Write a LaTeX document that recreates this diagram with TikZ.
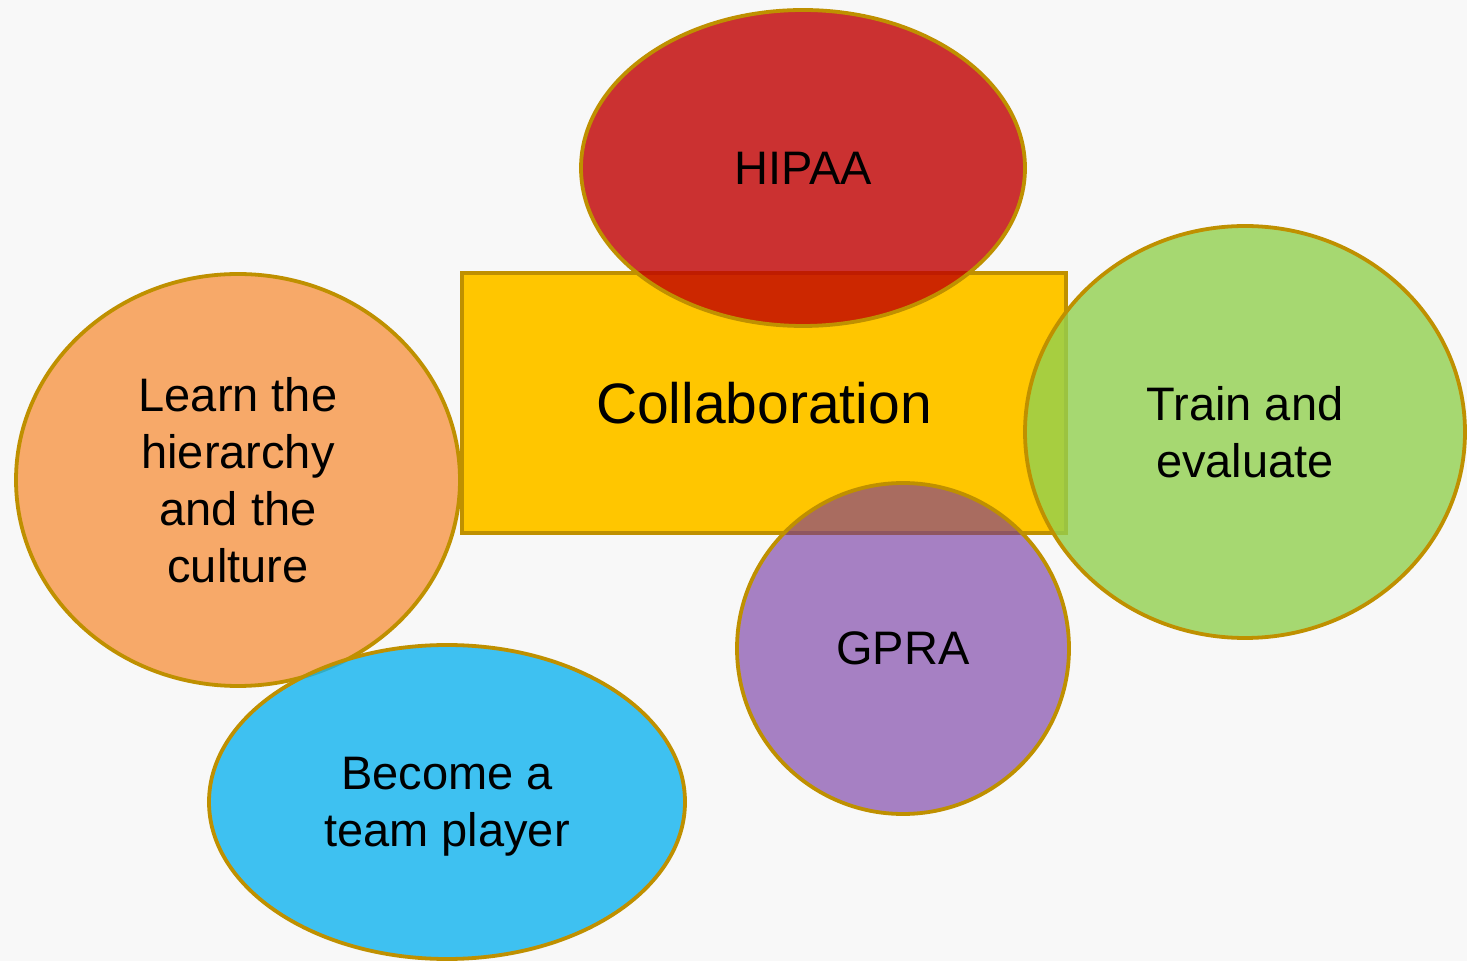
\documentclass[tikz,border=0pt]{standalone}
\usepackage{fontspec}
\setmainfont{Liberation Sans}
\usetikzlibrary{shapes.geometric}
\definecolor{bgc}{HTML}{F8F8F8}
\definecolor{edgec}{HTML}{BF9000}
\definecolor{goldc}{HTML}{FFC600}
\definecolor{redc}{HTML}{C00000}
\definecolor{greenc}{HTML}{92D050}
\definecolor{orangec}{HTML}{F79646}
\definecolor{bluec}{HTML}{10B4F0}
\definecolor{purplec}{HTML}{7030A0}
\tikzset{
  bubble/.style={ellipse, draw=edgec, line width=1.9pt, inner sep=0pt, align=center,
    font=\fontsize{23.5}{28.5}\selectfont, text=black, fill opacity=0.8, text opacity=1},
  bubbletext/.style={align=center, inner sep=0pt, font=\fontsize{23.5}{28.5}\selectfont, text=black},
  centerbox/.style={rectangle, draw=edgec, fill=goldc, line width=1.9pt, inner sep=0pt,
    font=\fontsize{28.5}{34}\selectfont, text=black}
}
\begin{document}
\begin{tikzpicture}[x=0.5pt,y=-0.5pt]
\fill[bgc] (0,0) rectangle (1467,961);
\useasboundingbox (0,0) rectangle (1467,961);
\node[centerbox, minimum width=302pt, minimum height=130pt] (collab) at (764,403) {Collaboration};
\node[bubble, fill=redc, minimum width=222pt, minimum height=158pt] (hipaa) at (803,168) {HIPAA};
\node[bubble, fill=greenc, minimum width=220pt, minimum height=206pt] (train) at (1245,432) {Train and\\evaluate};
\node[bubble, fill=orangec, minimum width=222pt, minimum height=206pt] (learn) at (238,480) {Learn the\\hierarchy\\and the\\culture};
\node[bubble, fill=bluec, minimum width=238pt, minimum height=157pt] (team) at (447,802) {};
\node[bubbletext] (teamtext) at (447,807) {Become a\\team player};
\node[bubble, fill=purplec, fill opacity=0.6, minimum width=166pt, minimum height=165.5pt] (gpra) at (903,648.5) {GPRA};
\end{tikzpicture}
\end{document}
